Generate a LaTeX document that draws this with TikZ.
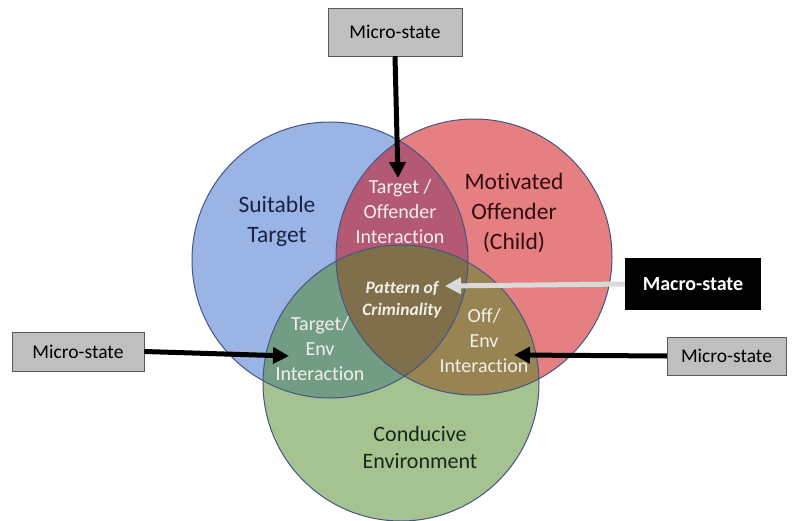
\documentclass[tikz,border=0pt]{standalone}
\usepackage{fontspec}
\setmainfont{Carlito}[Ligatures=NoCommon]
\usetikzlibrary{arrows.meta}
\definecolor{bleuC}{RGB}{55,105,205}
\definecolor{rougeC}{RGB}{205,0,5}
\definecolor{vertC}{RGB}{75,135,35}
\definecolor{bord}{RGB}{70,85,130}
\definecolor{gris}{RGB}{191,191,191}
\definecolor{grisclair}{RGB}{218,218,218}
\definecolor{blanc}{RGB}{242,240,232}
\begin{document}
\begin{tikzpicture}[x=1pt,y=-1pt,
  etat/.style={draw=black!65, fill=gris, inner sep=0pt, font=\fontsize{19.5}{23}\selectfont},
  macro/.style={fill=black, text=white, inner sep=0pt, font=\bfseries\fontsize{20}{24}\selectfont},
  grand/.style={align=center, font=\fontsize{23.5}{30}\selectfont},
  inter/.style={align=center, text=blanc, font=\fontsize{20}{25}\selectfont},
  fleche/.style={line width=5pt, -{Triangle[length=16pt,width=16pt]}}]
\useasboundingbox (0,0) rectangle (792,521);
% Cercles
\fill[bleuC, fill opacity=0.5] (330,260) circle[radius=138pt];
\fill[rougeC, fill opacity=0.5] (474,257) circle[radius=138pt];
\fill[vertC, fill opacity=0.5] (401,383) circle[radius=138pt];
\draw[bord, line width=1pt] (330,260) circle[radius=138pt];
\draw[bord, line width=1pt] (474,257) circle[radius=138pt];
\draw[bord, line width=1pt] (401,383) circle[radius=138pt];
% Textes
\node[grand, text={rgb,255:red,25;green,35;blue,70}] (cible) at (277,221) {Suitable\\Target};
\node[grand, text={rgb,255:red,50;green,12;blue,12}] (auteur) at (514,213) {Motivated\\Offender\\(Child)};
\node[grand, text={rgb,255:red,25;green,40;blue,25}, font=\fontsize{22}{27}\selectfont] (milieu) at (420,447) {Conducive\\Environment};
\node[inter] (ciblAut) at (400,212) {Target /\\Offender\\Interaction};
\node[inter] (ciblEnv) at (320,349) {Target/\\Env\\Interaction};
\node[inter] (autEnv) at (484,341) {Off/\\Env\\Interaction};
\node[align=center, text=blanc, font=\bfseries\itshape\fontsize{17.5}{22}\selectfont] (motif) at (402,300) {Pattern of\\Criminality};
% Etats
\node[etat, minimum width=134pt, minimum height=48pt] (microHaut) at (395,32) {Micro-state};
\node[etat, minimum width=132pt, minimum height=39pt] (microGauche) at (78,351.5) {Micro-state};
\node[etat, minimum width=119pt, minimum height=38pt] (microDroite) at (726.5,356) {Micro-state};
\node[macro, minimum width=136pt, minimum height=52pt] (macroEtat) at (693,284) {Macro-state};
% Fleches
\coordinate (pointeHaut) at (398,178);
\coordinate (pointeGauche) at (289,356);
\coordinate (pointeDroite) at (514,355);
\coordinate (pointeMacro) at (445,286);
\draw[fleche] (microHaut.south) -- (pointeHaut);
\draw[fleche] (microGauche.east) -- (pointeGauche);
\draw[fleche] (microDroite.west) -- (pointeDroite);
\draw[fleche, grisclair] (macroEtat.west) -- (pointeMacro);
\end{tikzpicture}
\end{document}
